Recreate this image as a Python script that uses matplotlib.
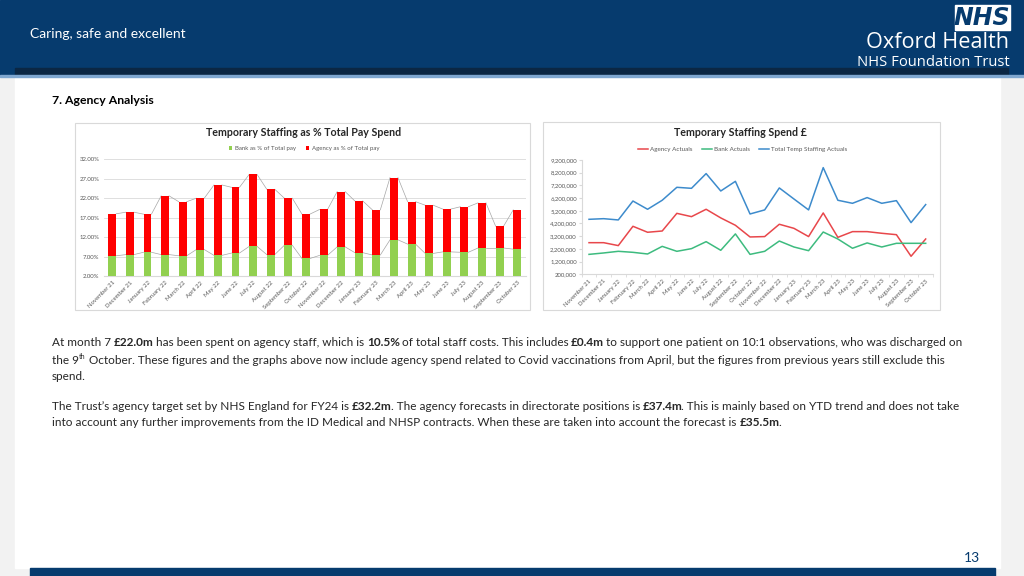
import numpy as np
import matplotlib
matplotlib.use("Agg")
import matplotlib.pyplot as plt
from matplotlib.patches import Rectangle

# ---- data ----
months = ["November 21", "December 21", "January 22", "February 22", "March 22", "April 22",
          "May 22", "June 22", "July 22", "August 22", "September 22", "October 22",
          "November 22", "December 22", "January 23", "February 23", "March 23", "April 23",
          "May 23", "June 23", "July 23", "August 23", "September 23", "October 23"]

# % of total pay (bank bar, agency stacked on top)
bank_pct = [7.2, 7.5, 8.1, 7.5, 7.2, 8.8, 7.3, 7.9, 9.6, 7.5, 9.9, 6.5,
            7.3, 9.5, 8.0, 7.4, 11.3, 10.2, 7.8, 8.2, 8.1, 9.2, 9.2, 8.9]
total_pct = [18.0, 18.4, 17.9, 22.6, 21.1, 22.0, 25.4, 24.8, 28.1, 24.3, 22.0, 17.9,
             19.1, 23.7, 21.3, 19.0, 27.3, 21.1, 20.2, 19.2, 19.8, 20.8, 14.8, 19.0]
agency_pct = [t - b for t, b in zip(total_pct, bank_pct)]

# spend in £
agency_spend = [2690000, 2690000, 2460000, 3980000, 3510000, 3610000, 5000000, 4740000,
                5320000, 4640000, 4060000, 3140000, 3170000, 4140000, 3820000, 3170000,
                5030000, 3110000, 3560000, 3560000, 3430000, 3320000, 1620000, 2980000]
bank_spend = [1770000, 1880000, 2010000, 1930000, 1800000, 2400000, 2010000, 2220000,
              2770000, 2090000, 3380000, 1770000, 2010000, 2820000, 2350000, 2060000,
              3530000, 2980000, 2250000, 2670000, 2350000, 2640000, 2640000, 2640000]
total_spend = [4530000, 4580000, 4480000, 5970000, 5320000, 6030000, 7050000, 6970000,
               8130000, 6760000, 7520000, 4950000, 5270000, 7000000, 6130000, 5270000,
               8600000, 6030000, 5790000, 6240000, 5790000, 6000000, 4270000, 5690000]

W, H = 1024, 576
NAVY = "#063b6e"
GREY_TXT = "#595959"

plt.rcParams["font.family"] = ["Lato", "DejaVu Sans"]

fig = plt.figure(figsize=(W / 100, H / 100), dpi=100)
fig.patch.set_facecolor("#f2f2f2")


def px_rect(x0, y0, x1, y1, **kw):
    """rectangle in slide pixels (y from top)"""
    fig.patches.append(Rectangle((x0 / W, 1 - y1 / H), (x1 - x0) / W, (y1 - y0) / H,
                                 transform=fig.transFigure, **kw))


def px_axes(x0, y0, x1, y1):
    a = fig.add_axes([x0 / W, 1 - y1 / H, (x1 - x0) / W, (y1 - y0) / H])
    a.set_zorder(5)
    return a


# ---- slide chrome ----
px_rect(15, 70, 1000, 568, color="white", zorder=0)
px_rect(0, 0, W, 76, color=NAVY, zorder=1)
px_rect(15, 68, 1008, 75, color="#0b2744", zorder=2)
px_rect(0, 75, W, 77, color="#7fa7d0", zorder=2)
px_rect(30, 568, 995, 576, color=NAVY, zorder=1)

fig.text(30 / W, 1 - 34 / H, "Caring, safe and excellent", color="white", fontsize=10,
         va="center", ha="left", zorder=6)
px_rect(955, 5, 1010, 30, color="white", zorder=3)
fig.text(982 / W, 1 - 18 / H, "NHS", color=NAVY, fontsize=17, weight="heavy",
         style="italic", ha="center", va="center", zorder=4, family="DejaVu Sans")
fig.text(1009 / W, 1 - 43 / H, "Oxford Health", color="white", fontsize=15.6,
         ha="right", va="center", family="Open Sans", zorder=6)
fig.text(1010 / W, 1 - 62 / H, "NHS Foundation Trust", color="white", fontsize=10.6,
         ha="right", va="center", family="Open Sans", zorder=6)

fig.text(52 / W, 1 - 101 / H, "7. Agency Analysis", color="black", fontsize=8.8,
         weight="bold", va="center", zorder=6)
fig.text(972 / W, 1 - 558 / H, "13", color=NAVY, fontsize=10, ha="center", va="center", zorder=6)

# ---- chart frames ----
px_rect(75, 123, 530, 310, facecolor="white", edgecolor="#d9d9d9", lw=0.8, zorder=1)
px_rect(543, 122, 940, 310, facecolor="white", edgecolor="#d9d9d9", lw=0.8, zorder=1)

x = np.arange(len(months))
bw = 0.45

# ---- left: stacked % bars ----
ax1 = px_axes(103.5, 159.3, 526, 276)
ax1.bar(x, bank_pct, bw, color="#92d050", zorder=3, label="Bank as % of Total pay")
ax1.bar(x, agency_pct, bw, bottom=bank_pct, color="#ff0000", zorder=3,
        label="Agency as % of Total pay")
# excel series lines between bar tops
for vals in (bank_pct, total_pct):
    for i in range(len(x) - 1):
        ax1.plot([x[i] + bw / 2, x[i + 1] - bw / 2], [vals[i], vals[i + 1]],
                 color="#a6a6a6", lw=0.5, zorder=2)
ax1.set_xlim(-0.5, len(x) - 0.5)
ax1.set_ylim(2, 32)
ax1.set_yticks(np.arange(2, 33, 5))
ax1.set_yticklabels([f"{v:.2f}%" for v in np.arange(2, 33, 5)])
ax1.grid(axis="y", color="#d9d9d9", lw=0.6, zorder=0)
ax1.set_axisbelow(True)
ax1.set_xticks(x)
ax1.set_xticklabels(months, rotation=45, ha="right", rotation_mode="anchor")
for s in ("top", "right", "left"):
    ax1.spines[s].set_visible(False)
ax1.spines["bottom"].set_color("#d9d9d9")
ax1.tick_params(axis="both", labelsize=4.3, colors=GREY_TXT, length=0, pad=3)
ax1.set_facecolor("none")
fig.text(304 / W, 1 - 133 / H, "Temporary Staffing as % Total Pay Spend", fontsize=7.7,
         weight="bold", ha="center", va="center", color="#262626", zorder=6)
ax1.legend(loc="center", bbox_to_anchor=(304 / W, 1 - 148.5 / H), bbox_transform=fig.transFigure,
           ncol=2, frameon=False, fontsize=4.4, handlelength=0.6, handleheight=0.6,
           handletextpad=0.4, columnspacing=1.6, labelcolor=GREY_TXT)

# ---- right: spend lines ----
ax2 = px_axes(581.7, 160, 933, 274.3)
ax2.plot(x, agency_spend, color="#e8474b", lw=1.1, label="Agency Actuals")
ax2.plot(x, bank_spend, color="#3dbb7f", lw=1.1, label="Bank Actuals")
ax2.plot(x, total_spend, color="#3d8bcc", lw=1.1, label="Total Temp Staffing Actuals")
ax2.set_xlim(-0.5, len(x) - 0.5)
yt = np.arange(200000, 9200001, 1000000)
ax2.set_ylim(200000, 9200000)
ax2.set_yticks(yt)
ax2.set_yticklabels([f"{v:,}" for v in yt])
ax2.set_xticks(x)
ax2.set_xticklabels(months, rotation=45, ha="right", rotation_mode="anchor")
ax2.set_xticks(np.arange(-0.5, len(x)), minor=True)
for s in ("top", "right"):
    ax2.spines[s].set_visible(False)
for s in ("left", "bottom"):
    ax2.spines[s].set_color("#d9d9d9")
ax2.tick_params(axis="both", labelsize=4.3, colors=GREY_TXT, length=2, pad=1.5)
ax2.tick_params(axis="both", which="both", color="#d9d9d9")
ax2.tick_params(axis="x", which="major", length=0, pad=3)
ax2.tick_params(axis="x", which="minor", length=2)
ax2.set_facecolor("none")
fig.text(740 / W, 1 - 133 / H, "Temporary Staffing Spend £", fontsize=7.7,
         weight="bold", ha="center", va="center", color="#262626", zorder=6)
ax2.legend(loc="center", bbox_to_anchor=(743 / W, 1 - 149 / H), bbox_transform=fig.transFigure,
           ncol=3, frameon=False, fontsize=4.5, handlelength=1.5, handletextpad=0.4,
           columnspacing=1.5, labelcolor=GREY_TXT)

# ---- commentary text with inline bold ----
paragraph = [
    (343, [("At month 7 ", "n"), ("£22.0m", "b"), (" has been spent on agency staff, which is ", "n"),
           ("10.5%", "b"), (" of total staff costs. This includes ", "n"), ("£0.4m", "b"),
           (" to support one patient on 10:1 observations, who was discharged on", "n")]),
    (360, [("the 9", "n"), ("th", "s"), (" October. These figures and the graphs above now include agency spend "
           "related to Covid vaccinations from April, but the figures from previous years still exclude this", "n")]),
    (376, [("spend.", "n")]),
    (407, [("The Trust’s agency target set by NHS England for FY24 is ", "n"), ("£32.2m", "b"),
           (". The agency forecasts in directorate positions is ", "n"), ("£37.4m", "b"),
           (". This is mainly based on YTD trend and does not take", "n")]),
    (423, [("into account any further improvements from the ID Medical and NHSP contracts. "
            "When these are taken into account the forecast is ", "n"), ("£35.5m", "b"), (".", "n")]),
]
renderer = fig.canvas.get_renderer()
TS = 8.45


def advance(txt, size, weight):
    # advance width of txt: ink("|txt|") - ink("||") cancels the bearings
    a = fig.text(0, 0, "|" + txt + "|", fontsize=size, weight=weight)
    b = fig.text(0, 0, "||", fontsize=size, weight=weight)
    w = a.get_window_extent(renderer).width - b.get_window_extent(renderer).width
    a.remove()
    b.remove()
    return w


for ypx, parts in paragraph:
    xpx = 52
    for txt, st in parts:
        size = TS * 0.6 if st == "s" else TS
        yy = ypx - 3.5 if st == "s" else ypx
        wt = "bold" if st == "b" else "normal"
        fig.text(xpx / W, 1 - yy / H, txt, fontsize=size, color="#262626",
                 weight=wt, va="center", ha="left", zorder=6)
        xpx += advance(txt, size, wt) - (1.2 if st == "b" else 0)

fig.savefig("out.png", dpi=100, facecolor=fig.get_facecolor())
